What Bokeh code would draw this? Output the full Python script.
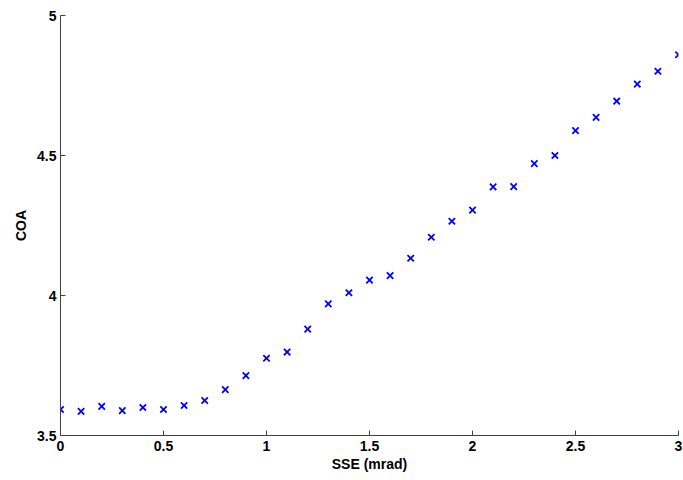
from bokeh.plotting import figure
from bokeh.models import FixedTicker, Range1d
from bokeh.embed import file_html
from bokeh.resources import INLINE

sse = [0.0, 0.1, 0.2, 0.3, 0.4, 0.5, 0.6, 0.7, 0.8, 0.9,
       1.0, 1.1, 1.2, 1.3, 1.4, 1.5, 1.6, 1.7, 1.8, 1.9,
       2.0, 2.1, 2.2, 2.3, 2.4, 2.5, 2.6, 2.7, 2.8, 2.9, 3.0]
coa = [3.593, 3.586, 3.604, 3.589, 3.600, 3.593, 3.607, 3.625, 3.664, 3.714,
       3.776, 3.798, 3.880, 3.970, 4.010, 4.055, 4.071, 4.133, 4.208, 4.265,
       4.305, 4.388, 4.389, 4.471, 4.500, 4.589, 4.636, 4.694, 4.755, 4.801, 4.860]
x_ticks = [0, 0.5, 1, 1.5, 2, 2.5, 3]
x_tick_labels = ["0", "0.5", "1", "1.5", "2", "2.5", "3"]
y_ticks = [3.5, 4, 4.5, 5]
y_tick_labels = ["3.5", "4", "4.5", "5"]

p = figure(width=683, height=480, output_backend="svg", toolbar_location=None,
           x_range=Range1d(0, 3), y_range=Range1d(3.5, 5),
           min_border_left=60, min_border_right=5, min_border_top=15, min_border_bottom=45)
p.outline_line_color = None
p.grid.visible = False
p.background_fill_color = "white"

p.scatter(sse, coa, marker="x", size=9, line_color="#0000ff", line_width=1.8)

font = "Liberation Sans"
for ax, ticks, labels in ((p.xaxis[0], x_ticks, x_tick_labels), (p.yaxis[0], y_ticks, y_tick_labels)):
    ax.ticker = FixedTicker(ticks=ticks)
    ax.major_label_overrides = {t: l for t, l in zip(ticks, labels)}
    ax.major_tick_in = 5
    ax.major_tick_out = 0
    ax.minor_tick_line_color = None
    ax.axis_line_color = "#404040"
    ax.major_tick_line_color = "#404040"
    ax.major_label_text_font = font
    ax.major_label_text_font_style = "bold"
    ax.major_label_text_font_size = "14px"
    ax.major_label_text_color = "black"
    ax.axis_label_text_font = font
    ax.axis_label_text_font_style = "bold"
    ax.axis_label_text_font_size = "14px"
    ax.axis_label_text_color = "black"

p.xaxis.axis_label = "SSE (mrad)"
p.yaxis.axis_label = "COA"
p.xaxis.major_label_standoff = 5
p.yaxis.major_label_standoff = 4
p.xaxis.axis_label_standoff = 2
p.yaxis.axis_label_standoff = 5

open("out.html", "w").write(file_html(p, INLINE))
